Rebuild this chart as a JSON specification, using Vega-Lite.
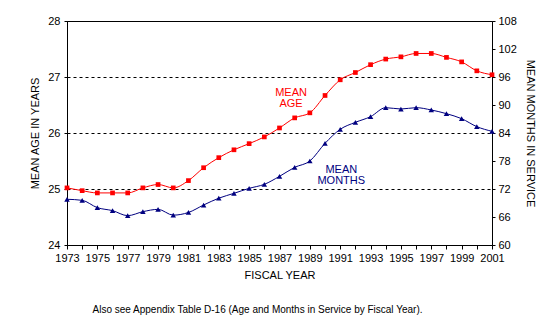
{
  "$schema": "https://vega.github.io/schema/vega-lite/v6.json",
  "width": 425,
  "height": 224,
  "autosize": {"type": "none"},
  "padding": {"left": 67, "top": 21, "right": 64, "bottom": 79},
  "background": "white",
  "datasets": {
    "series": [
      {"year": 1973, "age": 25.02, "months": 69.8},
      {"year": 1974, "age": 24.97, "months": 69.57},
      {"year": 1975, "age": 24.93, "months": 68.0},
      {"year": 1976, "age": 24.93, "months": 67.36},
      {"year": 1977, "age": 24.93, "months": 66.29},
      {"year": 1978, "age": 25.02, "months": 67.14},
      {"year": 1979, "age": 25.08, "months": 67.64},
      {"year": 1980, "age": 25.02, "months": 66.4},
      {"year": 1981, "age": 25.15, "months": 66.97},
      {"year": 1982, "age": 25.38, "months": 68.57},
      {"year": 1983, "age": 25.56, "months": 70.03},
      {"year": 1984, "age": 25.7, "months": 71.07},
      {"year": 1985, "age": 25.81, "months": 72.14},
      {"year": 1986, "age": 25.93, "months": 73.0},
      {"year": 1987, "age": 26.09, "months": 74.71},
      {"year": 1988, "age": 26.27, "months": 76.64},
      {"year": 1989, "age": 26.36, "months": 78.0},
      {"year": 1990, "age": 26.67, "months": 81.79},
      {"year": 1991, "age": 26.95, "months": 84.79},
      {"year": 1992, "age": 27.08, "months": 86.29},
      {"year": 1993, "age": 27.22, "months": 87.5},
      {"year": 1994, "age": 27.32, "months": 89.43},
      {"year": 1995, "age": 27.36, "months": 89.14},
      {"year": 1996, "age": 27.42, "months": 89.43},
      {"year": 1997, "age": 27.42, "months": 88.93},
      {"year": 1998, "age": 27.35, "months": 88.14},
      {"year": 1999, "age": 27.27, "months": 87.07},
      {"year": 2000, "age": 27.11, "months": 85.36},
      {"year": 2001, "age": 27.04, "months": 84.36}
    ],
    "ageLabel": [{"year": 1987.76, "age": 26.71, "label": "MEAN\nAGE"}],
    "monthsLabel": [{"year": 1991.07, "months": 76.1, "label": "MEAN\nMONTHS"}]
  },
  "config": {
    "font": "Liberation Sans",
    "view": {"stroke": "black", "strokeWidth": 1},
    "axis": {
      "domainColor": "black",
      "tickColor": "black",
      "labelColor": "black",
      "titleColor": "black",
      "labelFont": "Liberation Sans",
      "titleFont": "Liberation Sans",
      "labelFontSize": 11,
      "titleFontSize": 11,
      "titleFontWeight": "normal",
      "labelOverlap": false,
      "labelFlush": false
    }
  },
  "title": {
    "text": "Also see Appendix Table D-16 (Age and Months in Service by Fiscal Year).",
    "orient": "bottom",
    "anchor": "middle",
    "offset": 25,
    "dx": -22,
    "fontSize": 10,
    "fontWeight": "normal",
    "font": "Liberation Sans",
    "color": "black"
  },
  "encoding": {
    "x": {
      "field": "year",
      "type": "quantitative",
      "scale": {"domain": [1973, 2001], "nice": false, "zero": false},
      "axis": {
        "title": "FISCAL YEAR",
        "values": [1973,1974,1975,1976,1977,1978,1979,1980,1981,1982,1983,1984,1985,1986,1987,1988,1989,1990,1991,1992,1993,1994,1995,1996,1997,1998,1999,2000,2001],
        "format": "d",
        "labelExpr": "(datum.value - 1973) % 2 === 0 ? datum.label : ''",
        "grid": false,
        "tickSize": 4,
        "labelPadding": 3,
        "titlePadding": 6
      }
    }
  },
  "layer": [
    {
      "encoding": {
        "y": {
          "field": "age",
          "type": "quantitative",
          "scale": {"domain": [24, 28], "nice": false, "zero": false},
          "axis": {
            "orient": "left",
            "title": "MEAN AGE IN YEARS",
            "values": [24, 24.5, 25, 25.5, 26, 26.5, 27, 27.5, 28],
            "format": "d",
            "labelExpr": "datum.value % 1 === 0 ? datum.label : ''",
            "grid": true,
            "gridColor": "black",
            "gridDash": [3, 3],
            "gridOpacity": {"condition": {"test": "datum.value % 1 !== 0", "value": 0}, "value": 1},
            "tickSize": 3,
            "labelPadding": 4,
            "titlePadding": 7
          }
        }
      },
      "layer": [
        {
          "data": {"name": "series"},
          "mark": {
            "type": "line",
            "color": "#ff0000",
            "strokeWidth": 1,
            "interpolate": "monotone",
            "point": {"shape": "square", "size": 22, "filled": true, "color": "#ff0000", "opacity": 1}
          }
        },
        {
          "data": {"name": "ageLabel"},
          "mark": {"type": "text", "color": "#ff0000", "fontSize": 11, "lineBreak": "\n", "lineHeight": 11, "align": "center", "baseline": "middle"},
          "encoding": {"text": {"field": "label"}}
        }
      ]
    },
    {
      "encoding": {
        "y": {
          "field": "months",
          "type": "quantitative",
          "scale": {"domain": [60, 108], "nice": false, "zero": false},
          "axis": {
            "orient": "right",
            "title": "MEAN MONTHS IN SERVICE",
            "values": [60, 66, 72, 78, 84, 90, 96, 102, 108],
            "grid": false,
            "tickSize": 3,
            "labelPadding": 3,
            "titlePadding": 8
          }
        }
      },
      "layer": [
        {
          "data": {"name": "series"},
          "mark": {
            "type": "line",
            "color": "#000080",
            "strokeWidth": 1,
            "interpolate": "monotone",
            "point": {"shape": "triangle-up", "size": 30, "filled": true, "color": "#000080", "opacity": 1}
          }
        },
        {
          "data": {"name": "monthsLabel"},
          "mark": {"type": "text", "color": "#000080", "fontSize": 11, "lineBreak": "\n", "lineHeight": 11, "align": "center", "baseline": "middle"},
          "encoding": {"text": {"field": "label"}}
        }
      ]
    }
  ],
  "resolve": {"scale": {"y": "independent"}}
}
